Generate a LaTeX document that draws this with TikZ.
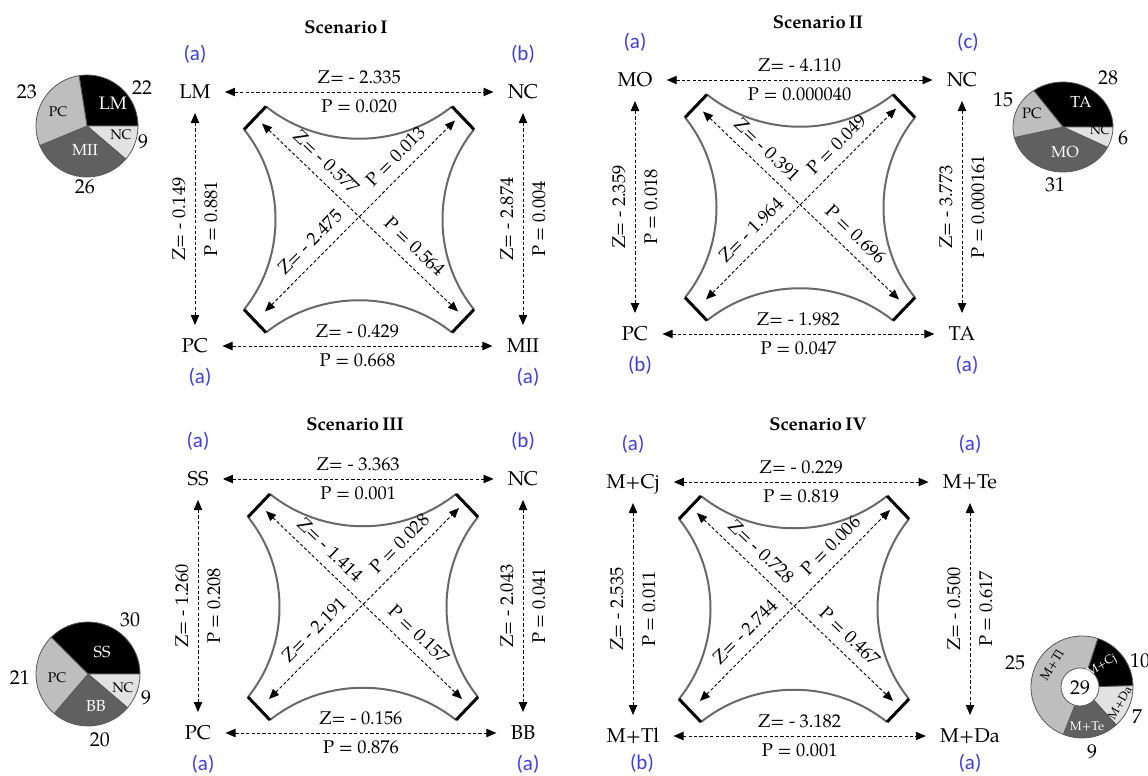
\documentclass[tikz,border=0pt]{standalone}
\usepackage{fontspec}
\setmainfont{TeX Gyre Pagella}
\newfontfamily\grpfont{Carlito}
\usetikzlibrary{arrows.meta,positioning}

\definecolor{grpblue}{RGB}{60,60,235}
\definecolor{pielight}{RGB}{226,226,226}
\definecolor{piedark}{RGB}{96,96,96}
\definecolor{piemid}{RGB}{190,190,190}
\definecolor{starline}{RGB}{105,105,105}

\newcommand{\fs}[1]{\fontsize{#1}{#1}\selectfont}

\tikzset{
  trt/.style={inner sep=7pt, text height=6.6pt, text depth=0pt, font=\fs{10}},
  ttl/.style={font=\bfseries\fs{9.2}, inner sep=0pt},
  grp/.style={text=grpblue, font=\grpfont\fs{10.5}, inner sep=0pt},
  grpb/.style={grp, xshift=2.5pt},
  link/.style={<->, dash pattern=on 1.6pt off 1.1pt, line width=0.45pt},
  stat/.style={inner sep=0pt, font=\fs{9.2}},
  hz/.style={stat, above=3.8pt},
  hp/.style={stat, below=3.8pt},
  vz/.style={stat, sloped, above=4.5pt},
  vp/.style={stat, sloped, below=4.5pt},
  dz/.style={stat, sloped, above=5pt},
  pieedge/.style={draw=gray!70!black, line width=0.4pt},
  pw/.style={text=white, inner sep=0pt},
  pk/.style={text=black, inner sep=0pt},
  pnum/.style={font=\fs{10}, inner sep=0pt}
}

% concave frame round the diagonals, #2 names its four tips
\newcommand{\starframe}[2]{%
  \begin{scope}[shift={(#1)}]
    \draw[starline, line width=1pt]
      (-93,-113) .. controls (-39,-70) and (39,-70) .. (93,-113)
      (115,-90) .. controls (73,-38) and (73,38) .. (115,90)
      (93,113) .. controls (39,70) and (-39,70) .. (-93,113)
      (-115,90) .. controls (-73,38) and (-73,-38) .. (-115,-90);
    \draw[black, line width=1.5pt]
      (-115,-90) -- (-93,-113) (93,-113) -- (115,-90)
      (115,90) -- (93,113) (-93,113) -- (-115,90);
    \coordinate (#2-tl) at (-97,-96);
    \coordinate (#2-tr) at (96,-99);
    \coordinate (#2-bl) at (-94,92);
    \coordinate (#2-br) at (99,92);
  \end{scope}}

\newcommand{\pieslice}[4]{%
  \filldraw[pieedge, fill=#4] (0,0) -- (#1:#3) arc[start angle=#1, end angle=#2, radius=#3] -- cycle;}

\begin{document}
\begin{tikzpicture}[x=0.5pt, y=-0.5pt, >={Triangle[length=5pt, width=4.2pt]}, line join=round]
\useasboundingbox (0,0) rectangle (1148,776);

% Scenario I
\node[ttl] (tI) at (346,27) {Scenario\,I};
\node[trt] (LM) at (195,92) {LM};
\node[trt] (NC1) at (523,92) {NC};
\node[trt] (PC1) at (195,346) {PC};
\node[trt] (MII) at (523,346) {MII};
\node[grp, above=3.5pt of LM] (gLM) {(a)};
\node[grp, above=3.5pt of NC1] (gNC1) {(b)};
\node[grpb, below=0.5pt of PC1] (gPC1) {(a)};
\node[grpb, below=0.5pt of MII] (gMII) {(a)};
\starframe{359,219.5}{I}
\draw[link] (LM) -- node[hz]{Z= - 2.335} node[hp]{P = 0.020} (NC1);
\draw[link] (PC1) -- node[hz]{Z= - 0.429} node[hp]{P = 0.668} (MII);
\draw[link] (PC1) -- node[vz]{Z= - 0.149} node[vp]{P = 0.881} (LM);
\draw[link] (MII) -- node[vz]{Z= - 2.874} node[vp]{P = 0.004} (NC1);
\draw[link] (I-tl) -- node[dz, pos=.27]{Z= - 0.577} node[dz, pos=.72]{P = 0.564} (I-br);
\draw[link] (I-bl) -- node[dz, pos=.3]{Z= - 2.475} node[dz, pos=.75]{P = 0.013} (I-tr);

% Scenario II
\node[ttl] (tII) at (818,22) {Scenario\,II};
\node[trt] (MO) at (635,80) {MO};
\node[trt] (NC2) at (962,80) {NC};
\node[trt] (PC2) at (635,334) {PC};
\node[trt] (TA) at (962,334) {TA};
\node[grp, above=3.5pt of MO] (gMO) {(a)};
\node[grp, above=3.5pt of NC2, xshift=3pt] (gNC2) {(c)};
\node[grpb, below=0.5pt of PC2] (gPC2) {(b)};
\node[grpb, below=0.5pt of TA] (gTA) {(a)};
\starframe{800,207.5}{II}
\draw[link] (MO) -- node[hz]{Z= - 4.110} node[hp]{P = 0.000040} (NC2);
\draw[link] (PC2) -- node[hz]{Z= - 1.982} node[hp]{P = 0.047} (TA);
\draw[link] (PC2) -- node[vz]{Z= - 2.359} node[vp]{P = 0.018} (MO);
\draw[link] (TA) -- node[vz]{Z= - 3.773} node[vp]{P = 0.000161} (NC2);
\draw[link] (II-tl) -- node[dz, pos=.27]{Z= - 0.391} node[dz, pos=.72]{P = 0.696} (II-br);
\draw[link] (II-bl) -- node[dz, pos=.3]{Z= - 1.964} node[dz, pos=.75]{P = 0.049} (II-tr);

% Scenario III
\node[ttl] (tIII) at (355,424) {Scenario\,III};
\node[trt] (SS) at (198,479) {SS};
\node[trt] (NC3) at (523,479) {NC};
\node[trt] (PC3) at (198,733) {PC};
\node[trt] (BB) at (523,733) {BB};
\node[grp, above=3.5pt of SS] (gSS) {(a)};
\node[grp, above=3.5pt of NC3] (gNC3) {(b)};
\node[grpb, below=0.5pt of PC3] (gPC3) {(a)};
\node[grpb, below=0.5pt of BB] (gBB) {(a)};
\starframe{363,607}{III}
\draw[link] (SS) -- node[hz]{Z= - 3.363} node[hp]{P = 0.001} (NC3);
\draw[link] (PC3) -- node[hz]{Z= - 0.156} node[hp]{P = 0.876} (BB);
\draw[link] (PC3) -- node[vz]{Z= - 1.260} node[vp]{P = 0.208} (SS);
\draw[link] (BB) -- node[vz]{Z= - 2.043} node[vp]{P = 0.041} (NC3);
\draw[link] (III-tl) -- node[dz, pos=.27]{Z= - 1.414} node[dz, pos=.72]{P = 0.157} (III-br);
\draw[link] (III-bl) -- node[dz, pos=.3]{Z= - 2.191} node[dz, pos=.75]{P = 0.028} (III-tr);

% Scenario IV
\node[ttl] (tIV) at (818,424) {Scenario\,IV};
\node[trt] (MCj) at (633,482) {M+Cj};
\node[trt] (MTe) at (970,482) {M+Te};
\node[trt] (MTl) at (633,736) {M+Tl};
\node[trt] (MDa) at (970,736) {M+Da};
\node[grp, above=3.5pt of MCj] (gMCj) {(a)};
\node[grp, above=3.5pt of MTe] (gMTe) {(a)};
\node[grpb, below=-1.5pt of MTl, xshift=2pt] (gMTl) {(b)};
\node[grp, below=-1.5pt of MDa] (gMDa) {(a)};
\starframe{794,609}{IV}
\draw[link] (MCj) -- node[hz]{Z= - 0.229} node[hp]{P = 0.819} (MTe);
\draw[link] (MTl) -- node[hz]{Z= - 3.182} node[hp]{P = 0.001} (MDa);
\draw[link] (MTl) -- node[vz]{Z= - 2.535} node[vp]{P = 0.011} (MCj);
\draw[link] (MDa) -- node[vz]{Z= - 0.500} node[vp]{P = 0.617} (MTe);
\draw[link] (IV-tl) -- node[dz, pos=.27]{Z= - 0.728} node[dz, pos=.72]{P = 0.467} (IV-br);
\draw[link] (IV-bl) -- node[dz, pos=.3]{Z= - 2.744} node[dz, pos=.75]{P = 0.006} (IV-tr);

% pie I
\begin{scope}[shift={(87,126)}, yscale=-1]
  \pieslice{99}{0}{51}{black}
  \pieslice{0}{-40.5}{51}{pielight}
  \pieslice{-40.5}{-157.5}{51}{piedark}
  \pieslice{-157.5}{-261}{51}{piemid}
\end{scope}
\node[pw, font=\fs{9}] (p1LM) at (113,103) {LM};
\node[pk, font=\fs{7}] (p1NC) at (121,135) {NC};
\node[pw, font=\fs{8}] (p1MII) at (85,150) {MII};
\node[pk, font=\fs{7}] (p1PC) at (58,112) {PC};
\node[pnum] (n1a) at (27,92) {23};
\node[pnum] (n1b) at (142,88) {22};
\node[pnum] (n1c) at (143,142) {9};
\node[pnum] (n1d) at (85,187) {26};

% pie II
\begin{scope}[shift={(1063,127)}, yscale=-0.9]
  \pieslice{126}{0}{50}{black}
  \pieslice{0}{-27}{50}{pielight}
  \pieslice{-27}{-166.5}{50}{piedark}
  \pieslice{-166.5}{-234}{50}{piemid}
\end{scope}
\node[pw, font=\fs{8}] (p2TA) at (1081,102) {TA};
\node[pk, font=\fs{7.5}] (p2PC) at (1032,113) {PC};
\node[pk, font=\fs{6.5}] (p2NC) at (1100,130) {NC};
\node[pw, font=\fs{8}] (p2MO) at (1065,152) {MO};
\node[pnum] (n2a) at (1108,78) {28};
\node[pnum] (n2b) at (1003,100) {15};
\node[pnum] (n2c) at (1123,138) {6};
\node[pnum] (n2d) at (1055,185) {31};

% pie III
\begin{scope}[shift={(88,674)}, yscale=-1]
  \pieslice{135}{0}{52}{black}
  \pieslice{0}{-40.5}{52}{pielight}
  \pieslice{-40.5}{-130.5}{52}{piedark}
  \pieslice{-130.5}{-225}{52}{piemid}
\end{scope}
\node[pw, font=\fs{8}] (p3SS) at (102,652) {SS};
\node[pk, font=\fs{7}] (p3PC) at (57,678) {PC};
\node[pk, font=\fs{7}] (p3NC) at (123,688) {NC};
\node[pw, font=\fs{8}] (p3BB) at (96,706) {BB};
\node[pnum] (n3a) at (130,620) {30};
\node[pnum] (n3b) at (20,678) {21};
\node[pnum] (n3c) at (146,698) {9};
\node[pnum] (n3d) at (100,740) {20};

% pie IV
\begin{scope}[shift={(1082,687)}, yscale=-1]
  \pieslice{72}{1.4}{51}{black}
  \pieslice{1.4}{-48}{51}{pielight}
  \pieslice{-48}{-111.5}{51}{piedark}
  \pieslice{-111.5}{-288}{51}{piemid}
  \filldraw[pieedge, fill=white] (-2,0) circle (19);
\end{scope}
\node[pk, font=\fs{6.3}, rotate=58] (p4Tl) at (1052,665) {M+Tl};
\node[pw, font=\fs{6}, rotate=30] (p4Cj) at (1102,666) {M+Cj};
\node[pk, font=\fs{6}, rotate=60] (p4Da) at (1120,703) {M+Da};
\node[pw, font=\fs{6.3}] (p4Te) at (1087,726) {M+Te};
\node[pnum] (p4mid) at (1080,688) {29};
\node[pnum] (n4a) at (1015,663) {25};
\node[pnum] (n4b) at (1140,661) {10};
\node[pnum] (n4c) at (1137,717) {7};
\node[pnum] (n4d) at (1092,752) {9};
\end{tikzpicture}
\end{document}
